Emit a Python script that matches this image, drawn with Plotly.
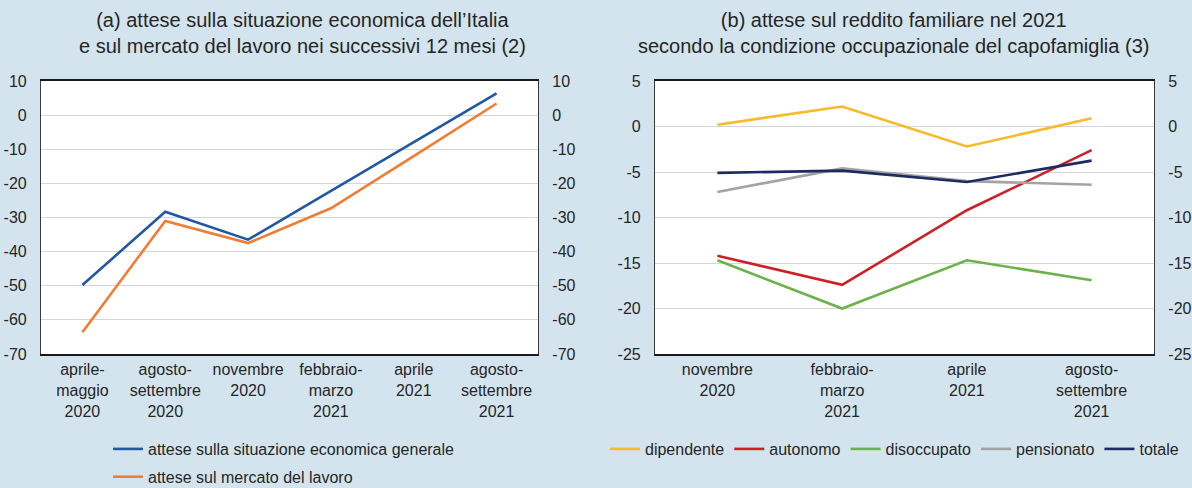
import plotly.graph_objects as go

# ---- data ----
cat_a = ["aprile-<br>maggio<br>2020", "agosto-<br>settembre<br>2020", "novembre<br>2020",
         "febbraio-<br>marzo<br>2021", "aprile<br>2021", "agosto-<br>settembre<br>2021"]
econ_generale = [-49.8, -28.3, -36.5, -22.2, -7.9, 6.4]
mercato_lavoro = [-63.6, -31.0, -37.5, -27.3, -12.0, 3.4]

cat_b = ["novembre<br>2020", "febbraio-<br>marzo<br>2021", "aprile<br>2021", "agosto-<br>settembre<br>2021"]
dipendente = [0.2, 2.2, -2.2, 0.9]
autonomo = [-14.2, -17.4, -9.2, -2.6]
disoccupato = [-14.7, -20.0, -14.7, -16.9]
pensionato = [-7.2, -4.6, -6.0, -6.4]
totale = [-5.1, -4.85, -6.1, -3.75]

ticks_a = [10, 0, -10, -20, -30, -40, -50, -60, -70]
ticks_b = [5, 0, -5, -10, -15, -20, -25]

BG = "#d3e4ee"
FONT = "Liberation Sans, Arial, sans-serif"
TXT = "#262626"
W, H = 1192, 488

fig = go.Figure()

fig.add_trace(go.Scatter(x=cat_a, y=econ_generale, mode="lines", name="attese sulla situazione economica generale",
                         line=dict(color="#2157a3", width=2.6), xaxis="x", yaxis="y", legend="legend", legendgroup="a1"))
fig.add_trace(go.Scatter(x=cat_a, y=mercato_lavoro, mode="lines", name="attese sul mercato del lavoro",
                         line=dict(color="#ef7d33", width=2.6), xaxis="x", yaxis="y", legend="legend", legendgroup="a2"))

series_b = [("dipendente", dipendente, "#f9b92b"), ("autonomo", autonomo, "#cc2027"),
            ("disoccupato", disoccupato, "#6cb24a"), ("pensionato", pensionato, "#a3a3a3"),
            ("totale", totale, "#1c2c60")]
for name, vals, col in series_b:
    fig.add_trace(go.Scatter(x=cat_b, y=vals, mode="lines", name=name,
                             line=dict(color=col, width=2.6), xaxis="x2", yaxis="y2", legend="legend2"))

# empty traces so that the mirrored right-hand axes get drawn
fig.add_trace(go.Scatter(x=[], y=[], xaxis="x", yaxis="y3", showlegend=False, hoverinfo="skip"))
fig.add_trace(go.Scatter(x=[], y=[], xaxis="x2", yaxis="y4", showlegend=False, hoverinfo="skip"))

ydom = [1 - 354 / H, 1 - 81 / H]
axfont = dict(family=FONT, size=16, color=TXT)

common_y = dict(showgrid=True, gridcolor="#d6d6d6", gridwidth=1, zeroline=False, ticks="",
                showline=True, linecolor="#3a3a3a", linewidth=1.2, mirror=True,
                tickfont=axfont, ticklabelstandoff=10, domain=ydom)
common_x = dict(type="category", showgrid=False, zeroline=False, ticks="", showline=True,
                linecolor="#1a1a1a", linewidth=1.5, mirror=True, tickfont=axfont)

ya = dict(tickmode="array", tickvals=ticks_a, ticktext=[str(v) for v in ticks_a], range=[-70, 10])
yb = dict(tickmode="array", tickvals=ticks_b, ticktext=[str(v) for v in ticks_b], range=[-25, 5])

fig.update_layout(
    width=W, height=H,
    paper_bgcolor=BG, plot_bgcolor="white",
    margin=dict(l=0, r=0, t=0, b=0, autoexpand=False),
    font=dict(family=FONT, size=16, color=TXT),
    xaxis=dict(common_x, domain=[41 / W, 538 / W], anchor="y", range=[-0.5, 5.5]),
    yaxis=dict(common_y, **ya, anchor="x"),
    yaxis3=dict(common_y, **ya, anchor="x", overlaying="y", side="right", showgrid=False),
    xaxis2=dict(common_x, domain=[655 / W, 1154 / W], anchor="y2", range=[-0.5, 3.5]),
    yaxis2=dict(common_y, **yb, anchor="x2"),
    yaxis4=dict(common_y, **yb, anchor="x2", overlaying="y2", side="right", showgrid=False),
    legend=dict(x=108 / W, y=1 - 432 / H, xanchor="left", yanchor="top", orientation="v",
                bgcolor="rgba(0,0,0,0)", font=dict(family=FONT, size=16, color=TXT),
                itemwidth=30, tracegroupgap=4),
    legend2=dict(x=605 / W, y=1 - 449 / H, xanchor="left", yanchor="middle", orientation="h",
                 bgcolor="rgba(0,0,0,0)", font=dict(family=FONT, size=16, color=TXT), itemwidth=30),
    annotations=[
        dict(text="(a) attese sulla situazione economica dell’Italia<br>e sul mercato del lavoro nei successivi 12 mesi (2)",
             x=302 / W, y=1 - 7 / H, xref="paper", yref="paper", xanchor="center", yanchor="top",
             showarrow=False, font=dict(family=FONT, size=20, color=TXT)),
        dict(text="(b) attese sul reddito familiare nel 2021<br>secondo la condizione occupazionale del capofamiglia (3)",
             x=893 / W, y=1 - 7 / H, xref="paper", yref="paper", xanchor="center", yanchor="top",
             showarrow=False, font=dict(family=FONT, size=20, color=TXT)),
    ],
)

fig.write_html("out.html", config={"displayModeBar": False},
               post_script="document.body.style.margin='0px';document.body.style.background='" + BG + "';")
